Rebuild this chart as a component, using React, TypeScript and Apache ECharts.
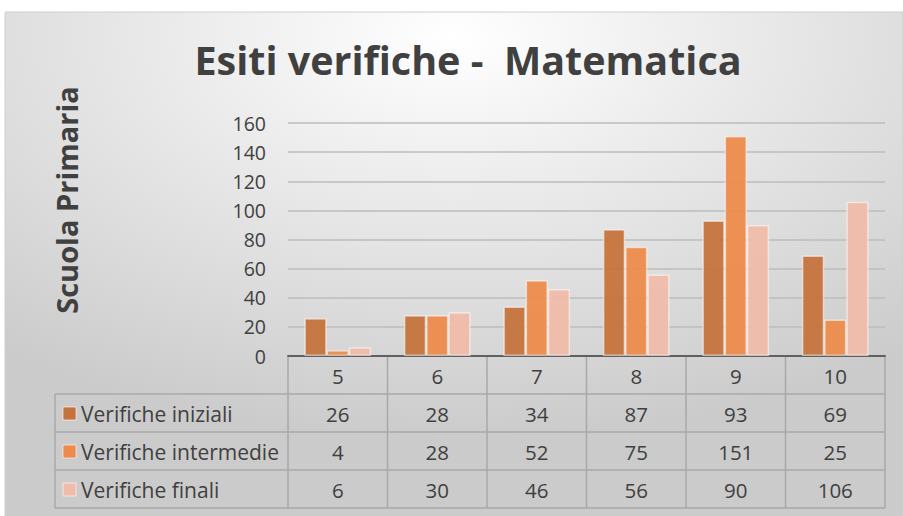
import React, { useEffect, useRef } from "react";
import * as echarts from "echarts";

const categories = ["5", "6", "7", "8", "9", "10"];
const seriesNames = ["Verifiche iniziali", "Verifiche intermedie", "Verifiche finali"];
const iniziali = [26, 28, 34, 87, 93, 69];
const intermedie = [4, 28, 52, 75, 151, 25];
const finali = [6, 30, 46, 56, 90, 106];
const yTicks = { min: 0, max: 160, interval: 20 };

const colors = ["#C5733D", "#EC8B4B", "#F0BCA9"];
const FONT = "'Open Sans', Lato, sans-serif";
const TEXT = "#404040";

export default function App() {
  const ref = useRef<HTMLDivElement>(null);
  useEffect(() => {
    if (!ref.current) return;
    const chart = echarts.init(ref.current, undefined, { renderer: "svg" });
    const values = [iniziali, intermedie, finali];
    const gridLeft = 288, gridRight = 885, gridTop = 123, gridBottom = 356;
    chart.setOption({
      animation: false,
      title: {
        text: "Esiti verifiche -  Matematica",
        left: 463,
        top: 35,
        textAlign: "center",
        textStyle: { fontFamily: FONT, fontWeight: "bold", fontSize: 39.5, color: TEXT },
      },
      grid: { left: gridLeft, right: 903 - gridRight, top: gridTop, bottom: 516 - gridBottom, containLabel: false },
      xAxis: {
        type: "category",
        data: categories,
        axisLine: { lineStyle: { color: "#606060", width: 2 } },
        axisTick: { show: false },
        axisLabel: { show: false },
      },
      yAxis: {
        type: "value",
        min: yTicks.min,
        max: yTicks.max,
        interval: yTicks.interval,
        axisLine: { show: false },
        axisTick: { show: false },
        axisLabel: { fontFamily: FONT, fontSize: 19.5, color: TEXT, margin: 22 },
        splitLine: { lineStyle: { color: "#bcbcbc", width: 1.5 } },
      },
      series: values.map((d, i) => ({
        name: seriesNames[i],
        type: "bar",
        data: d,
        barGap: "0%",
        barCategoryGap: "33%",
        itemStyle: { color: colors[i], borderColor: "rgba(255,255,255,0.55)", borderWidth: 1.5, opacity: 0.95 },
      })),
    });

    const c0 = chart.convertToPixel({ xAxisIndex: 0 }, 0) as number;
    const c1 = chart.convertToPixel({ xAxisIndex: 0 }, 1) as number;
    const band = c1 - c0;
    const rowTops = [gridBottom, 394, 432, 470, 508];
    const tableLeft = 55;
    const lineColor = "#a8a8a8";
    const TS = 20.5;
    const g: any[] = [];
    g.push({
      type: "rect",
      z: -10,
      shape: { x: 5, y: 12, width: 898, height: 504 },
      style: {
        fill: new echarts.graphic.RadialGradient(0.5, 0.05, 0.8, [
          { offset: 0, color: "#ffffff" },
          { offset: 1, color: "#cbcbcb" },
        ]),
        stroke: "#cfcfcf",
        lineWidth: 1,
      },
    });
    g.push({
      type: "text",
      x: 66,
      y: 200,
      rotation: Math.PI / 2,
      style: {
        text: "Scuola Primaria",
        fontFamily: FONT,
        fontWeight: "bold",
        fontSize: 29,
        fill: TEXT,
        textAlign: "center",
        textVerticalAlign: "middle",
      },
    });
    for (let r = 1; r < rowTops.length; r++) {
      g.push({
        type: "line",
        shape: { x1: tableLeft, y1: rowTops[r], x2: gridRight, y2: rowTops[r] },
        style: { stroke: lineColor, lineWidth: 1.5 },
      });
    }
    g.push({
      type: "line",
      shape: { x1: tableLeft, y1: rowTops[1], x2: tableLeft, y2: rowTops[4] },
      style: { stroke: lineColor, lineWidth: 1.5 },
    });
    for (let i = 0; i <= categories.length; i++) {
      const x = c0 - band / 2 + i * band;
      g.push({
        type: "line",
        shape: { x1: x, y1: rowTops[0] + 1, x2: x, y2: rowTops[4] },
        style: { stroke: lineColor, lineWidth: 1.5 },
      });
    }
    categories.forEach((cat, i) => {
      const x = chart.convertToPixel({ xAxisIndex: 0 }, i) as number;
      g.push({
        type: "text",
        x,
        y: (rowTops[0] + rowTops[1]) / 2 + 1,
        style: { text: cat, fontFamily: FONT, fontSize: TS, fill: TEXT, textAlign: "center", textVerticalAlign: "middle" },
      });
      values.forEach((d, s) => {
        g.push({
          type: "text",
          x,
          y: (rowTops[s + 1] + rowTops[s + 2]) / 2 + 1,
          style: { text: String(d[i]), fontFamily: FONT, fontSize: TS, fill: TEXT, textAlign: "center", textVerticalAlign: "middle" },
        });
      });
    });
    seriesNames.forEach((name, s) => {
      const cy = (rowTops[s + 1] + rowTops[s + 2]) / 2;
      g.push({
        type: "rect",
        shape: { x: 63, y: cy - 6, width: 13, height: 13 },
        style: { fill: colors[s], stroke: "rgba(255,255,255,0.6)", lineWidth: 1 },
      });
      g.push({
        type: "text",
        x: 81,
        y: cy + 1,
        style: { text: name, fontFamily: FONT, fontSize: 21, fill: TEXT, textAlign: "left", textVerticalAlign: "middle" },
      });
    });
    chart.setOption({ graphic: g });
    return () => chart.dispose();
  }, []);
  return <div ref={ref} style={{ position: "absolute", left: 0, top: 0, width: 903, height: 516 }} />;
}
